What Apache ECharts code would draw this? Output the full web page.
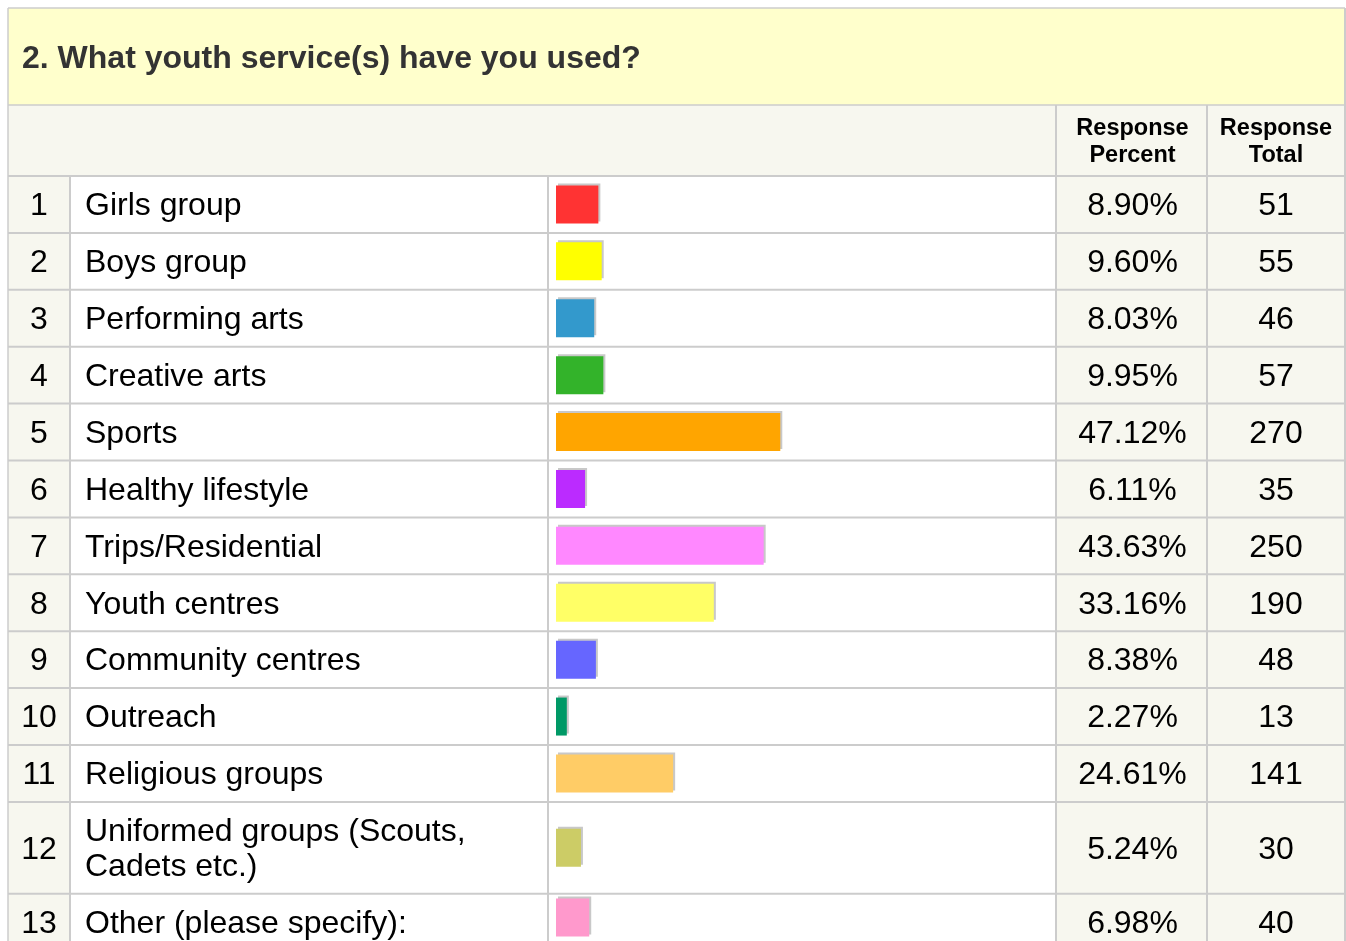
<!DOCTYPE html>
<html>
<head>
<meta charset="utf-8">
<script src="https://cdn.jsdelivr.net/npm/echarts@6/dist/echarts.min.js"></script>
<style>
html,body{margin:0;padding:0;background:#fff;}
#chart{width:1346px;height:941px;}
</style>
</head>
<body>
<div id="chart"></div>
<script>
// ---- data ----
var titleText = '2. What youth service(s) have you used?';
var headerPercent = 'Response\nPercent';
var headerTotal = 'Response\nTotal';
var indices = [1, 2, 3, 4, 5, 6, 7, 8, 9, 10, 11, 12, 13];
var labels = ['Girls group', 'Boys group', 'Performing arts', 'Creative arts', 'Sports',
  'Healthy lifestyle', 'Trips/Residential', 'Youth centres', 'Community centres', 'Outreach',
  'Religious groups', 'Uniformed groups (Scouts,\nCadets etc.)', 'Other (please specify):'];
var percents = [8.90, 9.60, 8.03, 9.95, 47.12, 6.11, 43.63, 33.16, 8.38, 2.27, 24.61, 5.24, 6.98];
var totals = [51, 55, 46, 57, 270, 35, 250, 190, 48, 13, 141, 30, 40];
var barColors = ['#FF3333', '#FFFF00', '#3399CC', '#33B32A', '#FFA500', '#BB2BFF', '#FF88FF',
  '#FFFF66', '#6666FF', '#009966', '#FFCC66', '#CCCC66', '#FF99CC'];

// ---- layout ----
var FONT = '"Liberation Sans", Arial, sans-serif';
var L = 8, R = 1345;
var colX = [L, 70, 548, 1056, 1207, R];
var titleTop = 8, headTop = 105, bodyTop = 176;
var lineH = 35;
var border = '#CCCCCC';
var beige = '#F7F7EF';
var bodySize = 32;

var rowTops = [], rowHs = [];
var y = bodyTop;
labels.forEach(function (lab) {
  var n = lab.split('\n').length;
  var h = 21.9 + lineH * n;
  rowTops.push(y); rowHs.push(h);
  y += h;
});
var bodyBottom = 941;

var graphics = [];
function rect(x, y, w, h, fill, z) {
  graphics.push({type: 'rect', z: z || 0, silent: true, shape: {x: x, y: y, width: w, height: h}, style: {fill: fill}});
}
function line(x1, y1, x2, y2, w) {
  graphics.push({type: 'line', z: 5, silent: true, shape: {x1: x1, y1: y1, x2: x2, y2: y2}, style: {stroke: border, lineWidth: w || 2}});
}
function text(str, x, y, size, weight, align, color, lh) {
  graphics.push({type: 'text', z: 6, silent: true, style: {
    text: str, x: x, y: y, fontSize: size, fontWeight: weight || 'normal', fontFamily: FONT,
    fill: color || '#000', textAlign: align || 'left', textVerticalAlign: 'middle',
    align: align || 'left', verticalAlign: 'middle', lineHeight: lh || lineH
  }});
}

// backgrounds
rect(L, titleTop, R - L, headTop - titleTop, '#FFFFCC');
rect(L, headTop, R - L, bodyTop - headTop, beige);
rect(colX[0], bodyTop, colX[1] - colX[0], bodyBottom - bodyTop, beige);
rect(colX[1], bodyTop, colX[3] - colX[1], bodyBottom - bodyTop, '#FFFFFF');
rect(colX[3], bodyTop, colX[5] - colX[3], bodyBottom - bodyTop, beige);

// borders
line(L, titleTop, R, titleTop, 1.5);
line(L, titleTop, L, bodyBottom, 1.5);
line(R, titleTop, R, bodyBottom, 2);
line(L, headTop, R, headTop, 1.5);
line(L, bodyTop, R, bodyTop, 2);
rowTops.forEach(function (t, i) { if (i > 0) line(L, t, R, t, 2); });
line(colX[1], bodyTop, colX[1], bodyBottom, 2);
line(colX[2], bodyTop, colX[2], bodyBottom, 2);
line(colX[3], headTop, colX[3], bodyBottom, 2);
line(colX[4], headTop, colX[4], bodyBottom, 2);

// texts
text(titleText, 22, 59, 32, 'bold', 'left', '#333333');
text(headerPercent, (colX[3] + colX[4]) / 2 + 1, 142, 23.5, 'bold', 'center', '#000', 27);
text(headerTotal, (colX[4] + colX[5]) / 2, 142, 23.5, 'bold', 'center', '#000', 27);
labels.forEach(function (lab, i) {
  var cy = rowTops[i] + rowHs[i] / 2 + 2;
  text(String(indices[i]), (colX[0] + colX[1]) / 2, cy, bodySize, 'normal', 'center');
  text(lab, 85, cy, bodySize, 'normal', 'left');
  text(percents[i].toFixed(2) + '%', (colX[3] + colX[4]) / 2 + 1, cy, bodySize, 'normal', 'center');
  text(String(totals[i]), (colX[4] + colX[5]) / 2, cy, bodySize, 'normal', 'center');
});

// one grid per table row so that bars follow the row heights
var grids = [], xAxes = [], yAxes = [], series = [];
labels.forEach(function (lab, i) {
  grids.push({left: 556, width: 476, top: rowTops[i], height: rowHs[i], containLabel: false});
  xAxes.push({type: 'value', gridIndex: i, min: 0, max: 100, show: false});
  yAxes.push({type: 'category', gridIndex: i, data: [lab], show: false});
  series.push({
    type: 'bar', xAxisIndex: i, yAxisIndex: i, barWidth: 38, silent: true, animation: false,
    data: [{value: percents[i], itemStyle: {color: barColors[i]}}],
    itemStyle: {shadowColor: '#C8C8C8', shadowOffsetX: 2, shadowOffsetY: -2, shadowBlur: 0}
  });
});

var chart = echarts.init(document.getElementById('chart'), null, {renderer: 'canvas'});
chart.setOption({
  animation: false,
  backgroundColor: '#FFFFFF',
  grid: grids, xAxis: xAxes, yAxis: yAxes, series: series,
  graphic: {elements: graphics}
});
</script>
</body>
</html>
